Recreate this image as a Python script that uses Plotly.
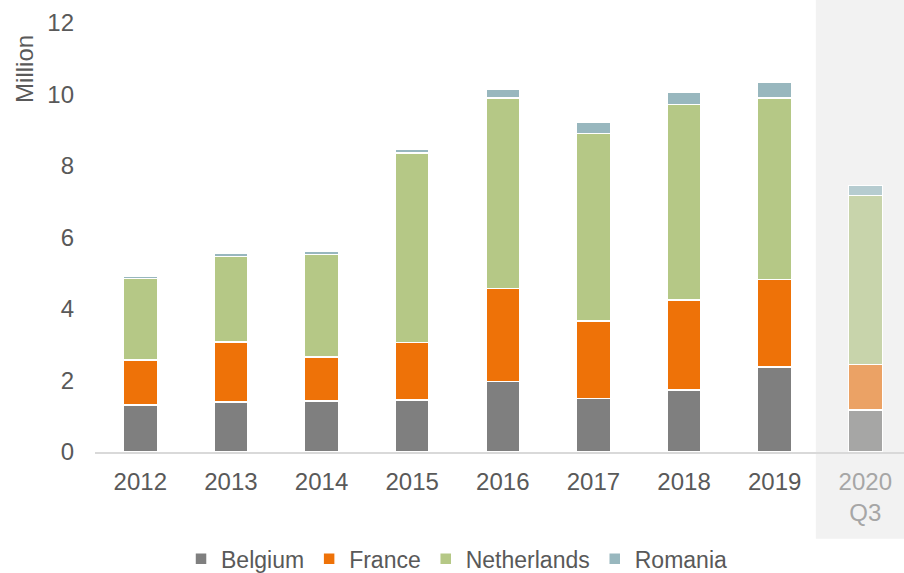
import plotly.graph_objects as go

categories = ["2012", "2013", "2014", "2015", "2016", "2017", "2018", "2019", "2020 Q3"]
tick_labels = ["2012", "2013", "2014", "2015", "2016", "2017", "2018", "2019", "2020<br>Q3"]

belgium = [1.32, 1.40, 1.43, 1.46, 1.97, 1.49, 1.73, 2.38, 1.17]
france = [1.26, 1.68, 1.23, 1.60, 2.61, 2.18, 2.52, 2.44, 1.28]
netherlands = [2.27, 2.39, 2.87, 5.31, 5.32, 5.24, 5.47, 5.08, 4.72]
romania = [0.07, 0.10, 0.09, 0.11, 0.25, 0.30, 0.35, 0.45, 0.28]

series = [
    ("Belgium", belgium, "#7F7F7F", "#A6A6A5"),
    ("France", france, "#EE7208", "#EBA265"),
    ("Netherlands", netherlands, "#B5C886", "#C8D4AB"),
    ("Romania", romania, "#98B7BE", "#B6CCD0"),
]

fig = go.Figure()
for name, vals, col, faded in series:
    colors = [col] * (len(categories) - 1) + [faded]
    fig.add_trace(go.Bar(
        x=categories, y=vals, name=name,
        marker=dict(color=colors, line=dict(color="white", width=1.5)),
        width=0.375,
    ))

font_family = "Liberation Sans, Arial, sans-serif"
ticktext = [t if i < len(categories) - 1 else f'<span style="color:#A6A6A6">{t}</span>'
            for i, t in enumerate(tick_labels)]

fig.update_layout(
    width=904, height=573,
    barmode="stack",
    plot_bgcolor="white", paper_bgcolor="white",
    margin=dict(l=95, r=0, t=23, b=121),
    font=dict(family=font_family, color="#595959", size=24),
    showlegend=True,
    legend=dict(orientation="h", xref="container", yref="container",
                x=0.505, xanchor="center", y=0.025, yanchor="middle",
                font=dict(size=23, color="#595959"), traceorder="normal",
                itemwidth=30),
    xaxis=dict(type="category", categoryorder="array", categoryarray=categories,
               range=[-0.5, 8.427], tickvals=categories, ticktext=ticktext,
               showline=True, linecolor="#D9D9D9", linewidth=2,
               showgrid=False, ticks="", ticklabelstandoff=7,
               tickfont=dict(size=24, color="#595959")),
    yaxis=dict(range=[0, 12], dtick=2, showgrid=False, zeroline=False,
               showline=False, ticks="", ticklabelstandoff=20,
               tickfont=dict(size=24, color="#595959")),
    shapes=[dict(type="rect", xref="paper", yref="paper",
                 x0=0.891, x1=1.0, y0=-0.202, y1=1.06,
                 fillcolor="#F2F2F2", line=dict(width=0), layer="below")],
    annotations=[dict(text="Million", textangle=-90, xref="paper", yref="paper",
                      x=-0.0865, y=0.977, xanchor="center", yanchor="top",
                      showarrow=False, font=dict(size=24, color="#595959"))],
)

fig.write_html("out.html", config={"displayModeBar": False},
               post_script="document.body.style.margin='0';document.body.style.overflow='hidden';")
